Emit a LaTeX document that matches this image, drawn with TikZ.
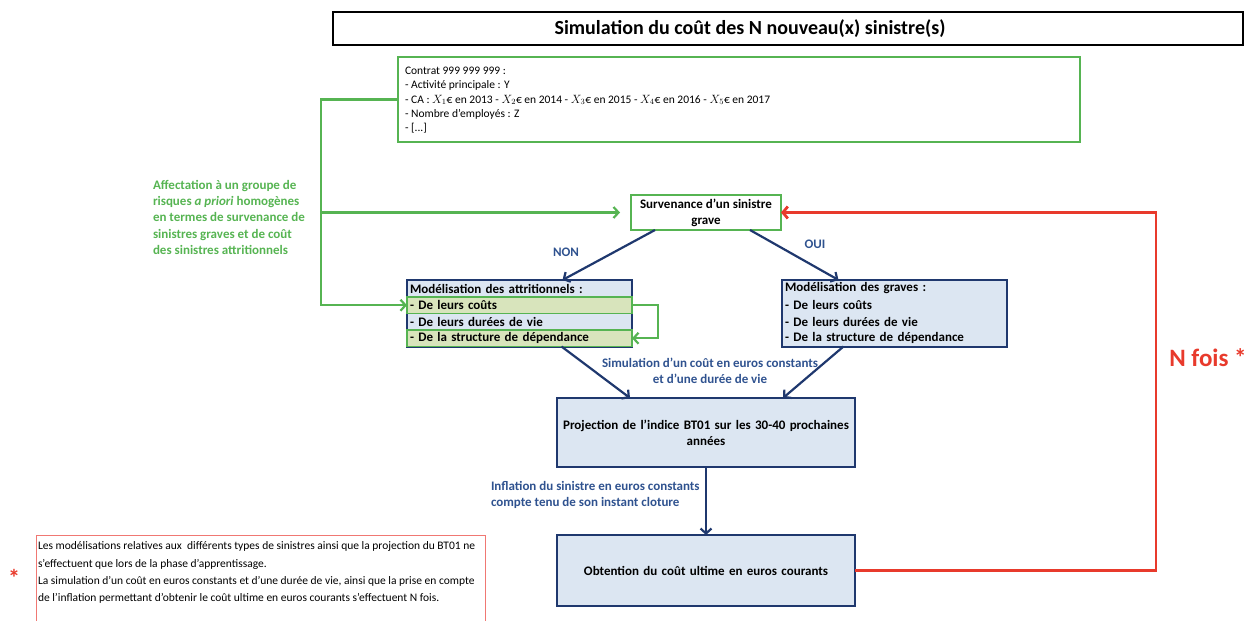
\documentclass[tikz,border=0pt]{standalone}
\usepackage{fontspec}
\setmainfont{Carlito}
\usetikzlibrary{arrows.meta}

\definecolor{navy}{RGB}{31,56,110}
\definecolor{labblue}{RGB}{47,82,143}
\definecolor{lgreen}{RGB}{86,180,82}
\definecolor{boxblue}{RGB}{220,230,242}
\definecolor{rowgreen}{RGB}{216,228,188}
\definecolor{nred}{RGB}{232,58,44}
\definecolor{notered}{RGB}{240,120,115}

\tikzset{
  base/.style={inner sep=0pt, outer sep=0pt},
  bold13/.style={font=\bfseries\fontsize{13}{16}\selectfont},
  navybox/.style={base, draw=navy, line width=2pt, fill=boxblue, bold13,
    align=center, anchor=north west},
  row/.style={base, anchor=north west, minimum height=16.5pt, text width=219pt,
    inner xsep=3pt, align=left, font=\bfseries\fontsize{13}{14}\selectfont},
  bluerow/.style={row, fill=boxblue},
  greenrow/.style={row, fill=rowgreen},
  greenframe/.style={draw=lgreen, line width=1.8pt},
  navyarrow/.style={draw=navy, line width=2.2pt,
    -{Straight Barb[length=5pt,width=11pt]}},
  greenarrow/.style={draw=lgreen, line width=2.2pt,
    -{Straight Barb[length=5pt,width=11pt]}},
  redarrow/.style={draw=nred, line width=2.8pt,
    -{Straight Barb[length=5pt,width=12pt]}},
  bluelabel/.style={base, text=labblue, bold13},
}

\begin{document}
\begin{tikzpicture}[x=1pt,y=-1pt]
\useasboundingbox (0,0) rectangle (1256,621);

% Title banner
\node[base, draw=black, line width=2.8pt, fill=white, anchor=north west,
      minimum width=910pt, minimum height=33pt] (title) at (333,12) {};
\node[base, font=\bfseries\fontsize{20}{22}\selectfont] (titletext)
      at (750,28.5) {Simulation du coût des N nouveau(x) sinistre(s)};

% Contract description
\node[base, draw=lgreen, line width=1.8pt, anchor=north west,
      minimum width=682pt, minimum height=85pt] (contrat) at (398,57) {};
\node[base, anchor=north west, align=left,
      font=\fontsize{11.5}{14.3}\selectfont] (contrattext) at (405,67)
  {Contrat 999 999 999 :\\
   - Activité principale : Y\\
   - CA : $X_1$€ en 2013 - $X_2$€ en 2014 - $X_3$€ en 2015 - $X_4$€ en 2016 - $X_5$€ en 2017\\
   - Nombre d'employés : Z\\
   - [...]};

% Risk group assignment
\node[base, anchor=north west, align=left, text=lgreen,
      font=\bfseries\fontsize{13}{16.3}\selectfont] (affect) at (153,180)
  {Affectation à un groupe de\\
   risques \textit{a priori} homogènes\\
   en termes de survenance de\\
   sinistres graves et de coût\\
   des sinistres attritionnels};

% Occurrence of a large claim
\node[base, draw=lgreen, line width=1.8pt, fill=white, align=center, bold13,
      minimum width=150pt, minimum height=35pt] (surv) at (706,212.5)
  {Survenance d'un sinistre\\grave};

% Attritional claims modelling
\node[bluerow, minimum height=17pt] (ah) at (407,280) {Modélisation des attritionnels :};
\node[greenrow] (ar1) at (407,297) {- De leurs coûts};
\node[bluerow]  (ar2) at (407,313.5) {- De leurs durées de vie};
\node[greenrow] (ar3) at (407,330) {- De la structure de dépendance};
\draw[navy, line width=2pt] (ah.north west) rectangle (ar3.south east);
\draw[greenframe] (ar1.north west) rectangle (ar1.south east);
\draw[greenframe] (ar3.north west) rectangle (ar3.south east);

% Large claims modelling
\node[bluerow, minimum height=17pt] (gh) at (782,280) {Modélisation des graves :};
\node[bluerow] (gr1) at (782,297) {- De leurs coûts};
\node[bluerow] (gr2) at (782,313.5) {- De leurs durées de vie};
\node[bluerow] (gr3) at (782,330) {- De la structure de dépendance};
\draw[navy, line width=2pt] (gh.north west) rectangle (gr3.south east);

% Index projection and ultimate cost
\node[navybox, minimum width=298pt, minimum height=69pt, text width=294pt]
  (proj) at (557,398) {Projection de l'indice BT01 sur les 30-40 prochaines\\années};
\node[navybox, minimum width=298pt, minimum height=71pt, text width=294pt]
  (obt) at (557,535) {Obtention du coût ultime en euros courants};

% Branch labels
\node[bluelabel] (non) at (566,252) {NON};
\node[bluelabel] (oui) at (815,244) {OUI};
\node[bluelabel, align=center, font=\bfseries\fontsize{13}{16}\selectfont]
  (simlab) at (710,371) {Simulation d'un coût en euros constants\\et d'une durée de vie};
\node[bluelabel, anchor=north west, align=left,
      font=\bfseries\fontsize{13}{16.5}\selectfont]
  (inflab) at (491,481) {Inflation du sinistre en euros constants\\compte tenu de son instant cloture};

% Flow arrows
\draw[navyarrow] ([xshift=-51pt]surv.south) -- ([xshift=43pt]ah.north);
\draw[navyarrow] ([xshift=44pt]surv.south) -- ([xshift=-56pt]gh.north);
\draw[navyarrow] ([xshift=42pt]ar3.south) -- ([xshift=-76pt]proj.north);
\draw[navyarrow] ([xshift=-51pt]gr3.south) -- ([xshift=77pt]proj.north);
\draw[navyarrow] (proj.south) -- (obt.north);

% Group assignment connectors
\coordinate (bend) at (321,99.5);
\draw[greenarrow] (contrat.west) -- (bend) |- (ar1.west);
\draw[greenarrow] (bend |- surv.west) -- ([xshift=-11pt]surv.west);
\draw[greenarrow] (ar1.east) -- ++(26,0) |- (ar3.east);

% Repetition loop
\coordinate (loopx) at (1156,573);
\draw[redarrow] (obt.east) -- (obt.east -| loopx) |- (surv.east);
\node[base, text=nred, font=\bfseries\fontsize{25}{28}\selectfont] (nfois)
  at (1208,358) {N fois *};

% Footnote
\node[base, anchor=north west, align=left,
      font=\fontsize{11.5}{17.2}\selectfont] (note) at (38,542)
  {Les modélisations relatives aux \ différents types de sinistres ainsi que la projection du BT01 ne\\
   s'effectuent que lors de la phase d'apprentissage.\\
   La simulation d'un coût en euros constants et d'une durée de vie, ainsi que la prise en compte\\
   de l'inflation permettant d'obtenir le coût ultime en euros courants s'effectuent N fois.};
\coordinate (notebl) at (36,622);
\coordinate (notetr) at (485,535);
\draw[notered, line width=0.8pt] (notebl) |- (notetr) -- (notetr |- notebl);
\node[base, text=nred, font=\bfseries\fontsize{24}{24}\selectfont] (star)
  at (14,578) {*};
\end{tikzpicture}
\end{document}
